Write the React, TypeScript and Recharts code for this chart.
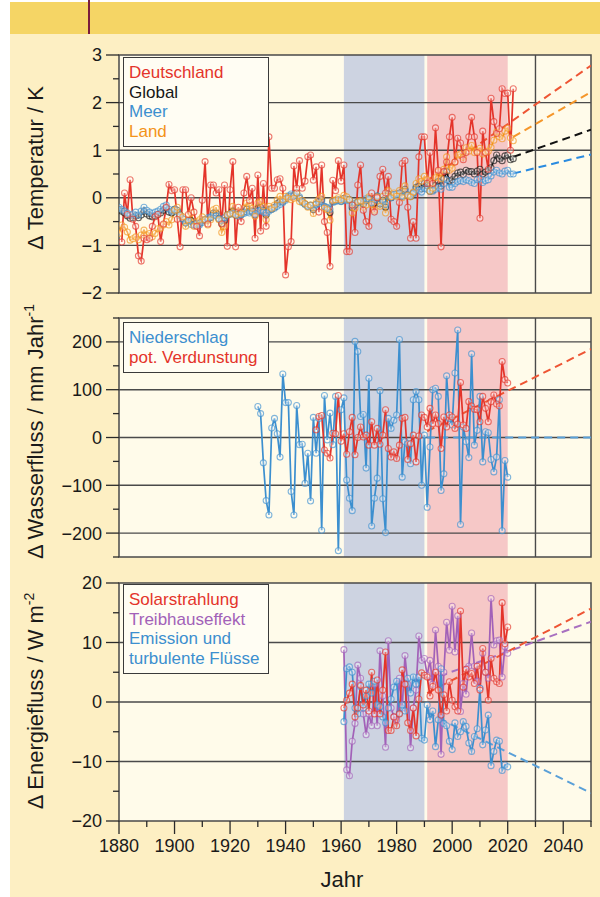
import React from 'react'
import {
  ComposedChart,
  Line,
  XAxis,
  YAxis,
  CartesianGrid,
  ReferenceArea,
  ReferenceLine,
  Legend,
} from 'recharts'

const FONT = '"Liberation Sans", Arial, Helvetica, sans-serif'

const RED = '#e4342a'
const BLACK = '#161616'
const BLUE = '#3c8fcf'
const ORANGE = '#f39319'
const PURPLE = '#a261b8'

const HEADER = '#f5d565'
const CREAM = '#fdefc3'
const PLOT_BG = '#fffbea'
const BAND_BLUE = '#cdd3e1'
const BAND_PINK = '#f6c8c7'
const GRID = '#4a4a4a'

// Bezugszeiträume
const refPeriod = [1961, 1990]
const recentPeriod = [1991, 2020]
const yearTicks = [1880, 1890, 1900, 1910, 1920, 1930, 1940, 1950, 1960, 1970, 1980, 1990, 2000, 2010, 2020, 2030, 2040, 2050]
const yearLabels = [1880, 1900, 1920, 1940, 1960, 1980, 2000, 2020, 2040]

// --- Temperatur (Abweichung 1961–1990), K
const tempTicks = [-2, -1.5, -1, -0.5, 0, 0.5, 1, 1.5, 2, 2.5, 3]
const tempLabels = [-2, -1, 0, 1, 2, 3]
const tempGrid = [-1, 0, 1, 2]

const deStart = 1881
const deTemp = [
  -0.93, 0.10, -0.35, 0.38, -0.45, -0.60, -1.22, -1.33, -0.85, -0.88,
  -0.85, -0.60, -0.40, -0.35, -0.92, -0.55, -0.20, 0.28, 0.15, 0.17,
  -0.45, -1.03, 0.17, 0.17, -0.35, 0.00, -0.30, -0.60, -0.80, -0.05,
  0.76, -0.55, 0.27, 0.27, 0.10, 0.17, -0.55, 0.27, -1.02, 0.17,
  0.76, -1.03, -0.20, -0.50, 0.10, 0.45, -0.05, 0.20, -0.85, 0.48,
  -0.70, 0.30, -0.60, 1.28, 0.20, 0.20, 0.38, 0.40, 0.20, -1.62,
  -1.03, -0.92, 0.67, 0.20, 0.78, 0.20, 0.35, 0.86, 0.90, 0.37,
  0.65, -0.30, 0.69, -0.50, -0.73, -1.44, 0.37, 0.15, 0.78, 0.35,
  0.69, -1.13, -1.13, -0.15, -0.73, 0.27, 0.69, -0.26, -0.50, -0.60,
  0.10, -0.30, 0.00, 0.45, 0.60, 0.10, 0.45, -0.45, -0.50, -0.60,
  -0.10, 0.72, 0.78, -0.20, -0.85, -0.50, -0.85, 0.86, 1.28, 1.28,
  0.30, 0.95, 0.30, 1.47, 0.58, -1.03, 0.55, 0.75, 1.28, 1.69,
  0.75, 1.25, 1.15, 0.80, 0.95, 1.28, 1.69, 1.28, 0.95, -0.43,
  1.40, 0.95, 0.60, 2.09, 1.60, 1.35, 1.45, 2.29, 2.19, 2.20,
  1.00, 2.29,
]

const globStart = 1880
const globalTemp = [
  -0.25, -0.28, -0.32, -0.38, -0.43, -0.42, -0.38, -0.42, -0.36, -0.28,
  -0.34, -0.38, -0.40, -0.38, -0.35, -0.32, -0.26, -0.22, -0.30, -0.32,
  -0.24, -0.26, -0.36, -0.44, -0.53, -0.48, -0.48, -0.56, -0.53, -0.54,
  -0.49, -0.46, -0.46, -0.42, -0.32, -0.32, -0.44, -0.54, -0.48, -0.36,
  -0.34, -0.28, -0.36, -0.35, -0.35, -0.30, -0.24, -0.28, -0.28, -0.36,
  -0.22, -0.20, -0.26, -0.36, -0.25, -0.24, -0.20, -0.12, -0.08, -0.08,
  -0.02, 0.02, 0.04, 0.03, 0.10, -0.01, -0.08, -0.13, -0.18, -0.16,
  -0.25, -0.13, -0.08, -0.04, -0.19, -0.22, -0.31, -0.08, -0.06, -0.04,
  -0.07, -0.01, -0.03, -0.04, -0.21, -0.15, -0.09, -0.07, -0.13, -0.06,
  -0.02, -0.11, -0.11, 0.03, -0.13, -0.05, -0.20, 0.08, 0.00, 0.07,
  0.07, 0.10, 0.03, 0.18, 0.06, 0.03, 0.10, 0.22, 0.24, 0.19,
  0.30, 0.26, 0.14, 0.16, 0.26, 0.34, 0.25, 0.40, 0.55, 0.35,
  0.38, 0.45, 0.52, 0.54, 0.49, 0.58, 0.55, 0.55, 0.50, 0.56,
  0.60, 0.50, 0.54, 0.57, 0.63, 0.78, 0.90, 0.82, 0.78, 0.88,
  0.90, 0.80, 0.82,
]

const seaTemp = [
  -0.20, -0.24, -0.28, -0.32, -0.36, -0.34, -0.30, -0.36, -0.28, -0.20,
  -0.26, -0.30, -0.33, -0.30, -0.28, -0.24, -0.18, -0.15, -0.24, -0.28,
  -0.24, -0.30, -0.37, -0.45, -0.52, -0.50, -0.56, -0.58, -0.55, -0.57,
  -0.52, -0.46, -0.42, -0.40, -0.36, -0.38, -0.44, -0.48, -0.42, -0.36,
  -0.34, -0.32, -0.36, -0.38, -0.36, -0.33, -0.30, -0.32, -0.30, -0.34,
  -0.28, -0.26, -0.30, -0.32, -0.28, -0.24, -0.22, -0.18, -0.14, -0.10,
  -0.05, 0.04, 0.08, 0.05, 0.10, 0.02, -0.10, -0.14, -0.18, -0.16,
  -0.22, -0.15, -0.12, -0.08, -0.18, -0.20, -0.24, -0.10, -0.08, -0.06,
  -0.08, -0.04, -0.06, -0.04, -0.16, -0.12, -0.10, -0.08, -0.10, -0.02,
  -0.04, -0.10, -0.04, 0.04, -0.10, -0.08, -0.14, 0.04, 0.00, 0.06,
  0.08, 0.08, 0.04, 0.14, 0.06, 0.04, 0.08, 0.18, 0.16, 0.12,
  0.20, 0.18, 0.14, 0.14, 0.18, 0.22, 0.18, 0.30, 0.38, 0.22,
  0.22, 0.30, 0.34, 0.36, 0.34, 0.38, 0.36, 0.32, 0.30, 0.38,
  0.40, 0.32, 0.36, 0.38, 0.46, 0.54, 0.58, 0.52, 0.50, 0.56,
  0.58, 0.50, 0.50,
]

const landTemp = [
  -0.75, -0.57, -0.62, -0.72, -0.89, -0.86, -0.82, -0.88, -0.78, -0.68,
  -0.78, -0.75, -0.82, -0.75, -0.65, -0.64, -0.57, -0.50, -0.57, -0.46,
  -0.26, -0.20, -0.36, -0.40, -0.60, -0.46, -0.32, -0.60, -0.50, -0.46,
  -0.40, -0.46, -0.57, -0.46, -0.25, -0.22, -0.46, -0.73, -0.60, -0.36,
  -0.33, -0.18, -0.36, -0.29, -0.32, -0.22, -0.11, -0.18, -0.22, -0.39,
  -0.11, -0.08, -0.18, -0.46, -0.18, -0.22, -0.15, -0.04, 0.03, -0.04,
  0.03, -0.01, -0.04, -0.01, 0.10, -0.08, -0.05, -0.12, -0.20, -0.15,
  -0.33, -0.10, -0.02, 0.03, -0.22, -0.25, -0.47, -0.05, -0.04, 0.00,
  -0.04, 0.05, 0.02, -0.04, -0.32, -0.22, -0.08, -0.06, -0.20, -0.15,
  0.02, -0.14, -0.26, 0.02, -0.18, 0.03, -0.32, 0.15, 0.02, 0.10,
  0.03, 0.15, 0.00, 0.25, 0.05, 0.02, 0.12, 0.30, 0.40, 0.35,
  0.45, 0.38, 0.14, 0.20, 0.42, 0.55, 0.40, 0.60, 0.86, 0.58,
  0.62, 0.75, 0.90, 0.92, 0.85, 1.05, 0.98, 1.10, 0.95, 0.98,
  1.04, 0.92, 0.95, 0.98, 1.06, 1.21, 1.38, 1.28, 1.24, 1.40,
  1.46, 1.26, 1.20,
]

// Trendgeraden [Jahr, Wert]
const deTrend = [[1991, 0.36], [2050, 2.78]]
const landTrend = [[2022, 1.28], [2050, 2.22]]
const globalTrend = [[2022, 0.86], [2050, 1.43]]
const seaTrend = [[2022, 0.51], [2050, 0.91]]

// --- Wasserfluss, mm/Jahr
const waterTicks = [-250, -200, -150, -100, -50, 0, 50, 100, 150, 200, 250]
const waterLabels = [-200, -100, 0, 100, 200]
const waterGrid = [-200, -100, 0, 100, 200]

const precipStart = 1930
const precip = [
  65, 50, -53, -132, -162, 20, 40, 8, -41, 133,
  73, 73, -113, -162, 67, -15, -14, -96, -33, -133,
  42, -33, 40, -194, 88, -5, 51, -15, 86, -237,
  58, 83, -89, -127, -153, 201, 180, 44, 48, -64,
  124, -185, -127, -85, 98, -128, -199, 40, 19, 36,
  47, 205, -83, -9, -13, -55, 79, 96, 79, -100,
  5, -146, -20, 100, 103, 86, -111, -76, 129, 40,
  26, 135, 225, -182, 22, -9, -42, 175, -16, 15,
  86, -51, 12, 10, -46, -72, -41, 79, -195, -48,
  -83,
]

const evapStart = 1951
const potEvap = [
  16, 44, 46, -26, -33, -43, 9, 8, 88, -8,
  8, -35, 12, 42, -36, 0, 22, 1, 5, -16,
  33, -16, 19, -14, 5, 58, -23, -41, -30, -44,
  -16, 40, 42, -46, -13, 5, -51, 3, 47, 42,
  22, 61, 29, 47, 29, -23, 43, 22, 47, 43,
  19, 28, 115, 26, 19, 75, 66, 59, 58, 33,
  86, 61, 33, 75, 89, 70, 66, 159, 121, 114,
]

const evapTrend = [[1991, 13], [2050, 185]]
const precipTrend = [[1991, 0], [2050, 0]]

// --- Energiefluss, W/m²
const energyTicks = [-20, -15, -10, -5, 0, 5, 10, 15, 20]
const energyLabels = [-20, -10, 0, 10, 20]
const energyGrid = [-10, 0, 10]

const fluxStart = 1961
const solar = [
  -1.0, 0.3, 1.5, 3.0, -2.5, -1.0, 2.8, -0.5, 2.0, -1.5,
  5.0, -2.0, 3.7, -2.0, 2.0, 8.4, -4.8, -4.8, -2.5, -4.0,
  -2.0, 5.4, 3.0, -3.5, -4.8, -1.0, -5.7, 0.5, 4.9, 4.5,
  4.2, 1.0, 2.6, 5.0, 2.0, -2.2, 1.2, -1.5, 3.4, 0.3,
  -0.8, -1.5, 15.3, 2.5, 5.5, 4.2, 4.8, 3.1, 6.0, 2.0,
  9.0, 5.0, 0.3, 7.3, 4.0, 3.4, 3.1, 16.7, 9.8, 12.6,
]
const greenhouse = [
  8.8, -11.4, -12.4, -6.6, -3.6, 6.2, 4.0, -2.0, -5.5, -2.0,
  -4.0, 3.0, -4.0, 8.6, 1.0, -7.6, 10.3, -1.0, -2.5, -3.0,
  4.0, -1.0, 7.8, 3.0, -7.7, -1.0, 2.0, 11.1, 7.0, 7.3,
  4.5, 7.0, 3.0, 12.1, 6.0, -8.8, 5.0, 13.4, 8.7, 16.1,
  8.4, 14.5, -1.6, 3.1, 1.3, 6.0, 11.6, 6.0, 3.5, 2.3,
  8.2, 5.0, 4.0, 17.4, 9.6, 10.3, 10.4, 4.2, 9.3, 8.2,
]
const emission = [
  -3.3, 5.6, 5.9, 5.0, -1.0, -2.0, 2.6, -1.0, 1.0, 3.0,
  1.5, 3.5, -0.5, -0.8, -2.5, -3.5, -1.0, 0.5, 2.5, 3.5,
  -1.9, -0.5, -1.5, 4.0, 1.5, 4.2, 3.0, 4.2, -6.1, -6.4,
  -0.5, -3.0, -1.5, -7.5, -3.0, 5.6, -3.6, -4.0, -6.6, -8.0,
  -3.5, -5.8, -5.0, -3.3, -4.1, -6.9, -8.3, -5.8, -4.5, 2.3,
  -7.2, -4.7, -2.2, -10.7, -8.3, -6.4, -6.6, -11.5, -10.6, -10.9,
]

const solarTrend = [[1991, 1.5], [2050, 15.7]]
const greenhouseTrend = [[1991, 3.6], [2050, 13.5]]
const emissionTrend = [[1991, -1.8], [2050, -15.3]]

type Pt = { year: number; v: number }
const toPoints = (start: number, values: number[]): Pt[] => values.map((v, i) => ({ year: start + i, v }))
const trendPoints = (t: number[][]): Pt[] => t.map(([year, v]) => ({ year, v }))

const fmt = (v: number) => (v < 0 ? '\u2212' + Math.abs(v) : String(v))

function YTick({ x, y, payload, labels }: any) {
  const major = labels.includes(payload.value)
  return (
    <g>
      <line x1={x - (major ? 13 : 6)} x2={x} y1={y} y2={y} stroke="#2a2a2a" strokeWidth={1.3} />
      {major && (
        <text x={x - 17} y={y} dy="0.36em" textAnchor="end" fontSize={18} fill="#1a1a1a" fontFamily={FONT}>
          {fmt(payload.value)}
        </text>
      )}
    </g>
  )
}

function XTick({ x, y, payload }: any) {
  const major = yearLabels.includes(payload.value)
  return (
    <g>
      <line x1={x} x2={x} y1={y} y2={y + (major ? 13 : 6)} stroke="#2a2a2a" strokeWidth={1.3} />
      {major && (
        <text x={x} y={y + 31} textAnchor="middle" fontSize={18} fill="#1a1a1a" fontFamily={FONT}>
          {payload.value}
        </text>
      )}
    </g>
  )
}

function AxisTitle({ viewBox, text, sup, shift }: any) {
  const cx = 43
  const cy = viewBox.y + viewBox.height / 2 + shift
  return (
    <text x={cx} y={cy} transform={`rotate(-90 ${cx} ${cy})`} textAnchor="middle" fontSize={22} fill="#1a1a1a" fontFamily={FONT}>
      {text}
      {sup && (
        <tspan dy={-9} fontSize={14}>
          {sup}
        </tspan>
      )}
    </text>
  )
}

function YearTitle({ viewBox }: any) {
  return (
    <text x={viewBox.x + viewBox.width / 2 - 13} y={viewBox.y + viewBox.height - 10} textAnchor="middle" fontSize={22} fill="#1a1a1a" fontFamily={FONT}>
      Jahr
    </text>
  )
}

function LegendBox({ payload, order }: any) {
  const items = order
    .map((n: string) => (payload || []).find((p: any) => p.value === n))
    .filter(Boolean)
  return (
    <div
      style={{
        width: 146,
        boxSizing: 'border-box',
        border: '1.5px solid #3a3a3a',
        background: '#fffdf3',
        padding: '5px 3px 5px 5px',
        fontFamily: FONT,
        fontSize: 17,
        lineHeight: '19.5px',
        textAlign: 'left',
      }}
    >
      {items.map((p: any) => (
        <div key={p.value} style={{ color: p.color }}>
          {p.value}
        </div>
      ))}
    </div>
  )
}

type SeriesDef = { name: string; color: string; data: Pt[] }
type TrendDef = { color: string; data: Pt[] }

function Panel(p: {
  top: number
  height: number
  mTop: number
  mBottom: number
  domain: [number, number]
  ticks: number[]
  labels: number[]
  grid: number[]
  series: SeriesDef[]
  trends: TrendDef[]
  legendOrder: string[]
  legendTop: number
  title: string
  sup?: string
  shift: number
  xAxis?: boolean
}) {
  const [lo, hi] = p.domain
  return (
    <div style={{ position: 'absolute', left: 0, top: p.top }}>
      <ComposedChart width={600} height={p.height} margin={{ top: p.mTop, right: 9, bottom: p.mBottom, left: 0 }}>
        <CartesianGrid horizontal={false} vertical={false} fill={PLOT_BG} fillOpacity={1} />
        {p.xAxis ? (
          <XAxis
            type="number"
            dataKey="year"
            domain={[1880, 2050]}
            ticks={yearTicks}
            interval={0}
            tickSize={0}
            tickMargin={0}
            tick={<XTick />}
            axisLine={false}
            height={76}
            allowDataOverflow
            label={<YearTitle />}
          />
        ) : (
          <XAxis type="number" dataKey="year" domain={[1880, 2050]} hide allowDataOverflow />
        )}
        <YAxis
          type="number"
          domain={p.domain}
          ticks={p.ticks}
          interval={0}
          tickSize={0}
          tickMargin={0}
          tick={<YTick labels={p.labels} />}
          axisLine={false}
          width={119}
          allowDataOverflow
          label={<AxisTitle text={p.title} sup={p.sup} shift={p.shift} />}
        />
        <ReferenceArea x1={refPeriod[0]} x2={refPeriod[1]} y1={lo} y2={hi} fill={BAND_BLUE} fillOpacity={1} stroke="none" />
        <ReferenceArea x1={recentPeriod[0]} x2={recentPeriod[1]} y1={lo} y2={hi} fill={BAND_PINK} fillOpacity={1} stroke="none" />
        {p.grid.map((v) => (
          <ReferenceLine key={'g' + v} y={v} stroke={GRID} strokeWidth={1.4} />
        ))}
        <ReferenceLine x={2030} stroke={GRID} strokeWidth={1.4} />
        {p.trends.map((t, i) => (
          <Line
            key={'t' + i}
            data={t.data}
            dataKey="v"
            type="linear"
            stroke={t.color}
            strokeWidth={2}
            strokeDasharray="8 5"
            dot={false}
            activeDot={false}
            legendType="none"
            isAnimationActive={false}
          />
        ))}
        {p.series.map((s) => (
          <Line
            key={s.name}
            name={s.name}
            data={s.data}
            dataKey="v"
            type="linear"
            stroke={s.color}
            strokeWidth={1.7}
            dot={{ r: 3, stroke: s.color, strokeOpacity: 0.65, strokeWidth: 1.1, fill: '#ffffff', fillOpacity: 0.3 }}
            activeDot={false}
            isAnimationActive={false}
          />
        ))}
        <ReferenceArea x1={1880} x2={2050} y1={lo} y2={hi} fill="none" stroke={GRID} strokeWidth={1.5} />
        <Legend
          layout="vertical"
          align="center"
          verticalAlign="middle"
          wrapperStyle={{ top: p.legendTop, left: 123, width: 146 }}
          content={<LegendBox order={p.legendOrder} />}
        />
      </ComposedChart>
    </div>
  )
}

export default function App() {
  return (
    <div style={{ position: 'absolute', left: 0, top: 0, width: 600, height: 897, background: '#ffffff', overflow: 'hidden' }}>
      <div style={{ position: 'absolute', left: 10, top: 2, width: 590, height: 32, background: HEADER }} />
      <div style={{ position: 'absolute', left: 10, top: 34, width: 590, height: 863, background: CREAM }} />
      <div style={{ position: 'absolute', left: 88, top: 0, width: 1.5, height: 34, background: '#7a1c3c' }} />

      {/* Zeiträume über alle drei Felder hinweg */}
      <div style={{ position: 'absolute', left: 0, top: 0 }}>
        <ComposedChart width={600} height={897} margin={{ top: 55, right: 9, bottom: 76, left: 119 }} data={[{ year: 1880 }, { year: 2050 }]}>
          <XAxis type="number" dataKey="year" domain={[1880, 2050]} hide />
          <YAxis type="number" domain={[0, 1]} hide />
          <ReferenceArea x1={refPeriod[0]} x2={refPeriod[1]} y1={0} y2={1} fill={BAND_BLUE} fillOpacity={1} stroke="none" />
          <ReferenceArea x1={recentPeriod[0]} x2={recentPeriod[1]} y1={0} y2={1} fill={BAND_PINK} fillOpacity={1} stroke="none" />
        </ComposedChart>
      </div>

      <Panel
        top={45}
        height={260}
        mTop={10}
        mBottom={12}
        domain={[-2, 3]}
        ticks={tempTicks}
        labels={tempLabels}
        grid={tempGrid}
        title="Δ Temperatur / K"
        shift={-6}
        legendTop={12}
        legendOrder={['Deutschland', 'Global', 'Meer', 'Land']}
        trends={[
          { color: '#2a8be0', data: trendPoints(seaTrend) },
          { color: '#111111', data: trendPoints(globalTrend) },
          { color: '#f5962a', data: trendPoints(landTrend) },
          { color: '#ee5534', data: trendPoints(deTrend) },
        ]}
        series={[
          { name: 'Global', color: BLACK, data: toPoints(globStart, globalTemp) },
          { name: 'Meer', color: BLUE, data: toPoints(globStart, seaTemp) },
          { name: 'Land', color: ORANGE, data: toPoints(globStart, landTemp) },
          { name: 'Deutschland', color: RED, data: toPoints(deStart, deTemp) },
        ]}
      />

      <Panel
        top={296}
        height={271}
        mTop={22}
        mBottom={10}
        domain={[-250, 250]}
        ticks={waterTicks}
        labels={waterLabels}
        grid={waterGrid}
        title="Δ Wasserfluss / mm Jahr"
        sup="-1"
        shift={-6}
        legendTop={26}
        legendOrder={['Niederschlag', 'pot. Verdunstung']}
        trends={[
          { color: '#5aa0d8', data: trendPoints(precipTrend) },
          { color: '#ee5534', data: trendPoints(evapTrend) },
        ]}
        series={[
          { name: 'Niederschlag', color: BLUE, data: toPoints(precipStart, precip) },
          { name: 'pot. Verdunstung', color: RED, data: toPoints(evapStart, potEvap) },
        ]}
      />

      <Panel
        top={573}
        height={324}
        mTop={10}
        mBottom={0}
        domain={[-20, 20]}
        ticks={energyTicks}
        labels={energyLabels}
        grid={energyGrid}
        title="Δ Energiefluss / W m"
        sup="-2"
        shift={-1}
        legendTop={11}
        legendOrder={['Solarstrahlung', 'Treibhauseffekt', 'Emission und turbulente Flüsse']}
        xAxis
        trends={[
          { color: '#5aa0d8', data: trendPoints(emissionTrend) },
          { color: '#a870c0', data: trendPoints(greenhouseTrend) },
          { color: '#ee5534', data: trendPoints(solarTrend) },
        ]}
        series={[
          { name: 'Treibhauseffekt', color: PURPLE, data: toPoints(fluxStart, greenhouse) },
          { name: 'Emission und turbulente Flüsse', color: BLUE, data: toPoints(fluxStart, emission) },
          { name: 'Solarstrahlung', color: RED, data: toPoints(fluxStart, solar) },
        ]}
      />
    </div>
  )
}
